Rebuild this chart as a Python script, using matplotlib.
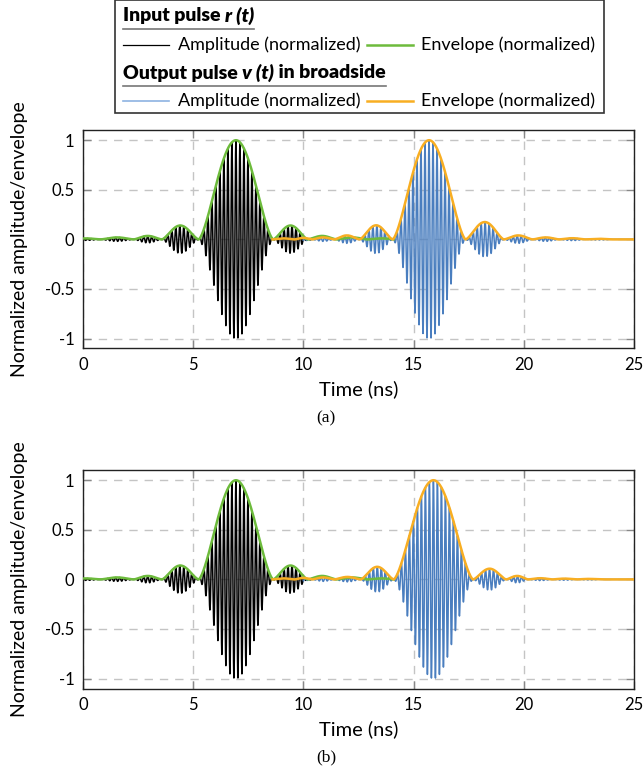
import numpy as np
import matplotlib
matplotlib.use("Agg")
import matplotlib.pyplot as plt
from matplotlib.lines import Line2D

# ---- data (times in ns, normalized amplitudes) ----
carrier_ghz = 5.5

# input pulse r(t): lobe boundaries (nulls) and lobe heights
in_nulls = [-0.5, 0.8, 2.3, 3.58, 5.25, 8.63, 10.2, 11.5, 12.9, 14.2]
in_heights = [0.01, 0.02, 0.035, 0.14, 1.0, 0.14, 0.035, 0.02, 0.01]
in_peak = 6.94
in_amp_span = (0.0, 10.4)
in_env_span = (0.0, 14.1)

# output pulse v(t), panel (a)
out_nulls_a = [8.6, 9.6, 10.4, 11.4, 12.55, 14.05, 17.36, 19.1, 20.4, 21.6, 22.8, 24.0]
out_heights_a = [0.01, 0.015, 0.02, 0.04, 0.142, 1.0, 0.175, 0.04, 0.02, 0.012, 0.006]
out_peak_a = 15.7

# output pulse v(t), panel (b)
out_nulls_b = [8.6, 9.6, 10.4, 11.4, 12.6, 14.1, 17.7, 19.2, 20.2, 21.3, 22.4, 23.5]
out_heights_b = [0.01, 0.015, 0.02, 0.025, 0.127, 1.0, 0.108, 0.035, 0.012, 0.008, 0.005]
out_peak_b = 15.9

out_amp_span = (10.0, 25.0)
out_env_span = (8.6, 25.0)

xticks = [0, 5, 10, 15, 20, 25]
yticks = [-1, -0.5, 0, 0.5, 1]
ytick_labels = ["-1", "-0.5", "0", "0.5", "1"]

C_BLACK = "#000000"
C_GREEN = "#6DBB3C"
C_BLUE = "#4A7EBF"
C_ORANGE = "#F8AE22"
FONT = "Lato"


def envelope(t, nulls, heights, shape=1.5):
    env = np.zeros_like(t)
    for k, h in enumerate(heights):
        a, b = nulls[k], nulls[k + 1]
        m = (t >= a) & (t <= b)
        env[m] = h * np.sin(np.pi * (t[m] - a) / (b - a)) ** shape
    return env


def draw_panel(ax, out_nulls, out_heights, out_peak):
    t = np.arange(0, 25.0001, 0.004)
    env_in = envelope(t, in_nulls, in_heights)
    env_out = envelope(t, out_nulls, out_heights)
    amp_in = env_in * np.cos(2 * np.pi * carrier_ghz * (t - in_peak))
    amp_out = env_out * np.cos(2 * np.pi * carrier_ghz * (t - out_peak))

    m = (t >= in_amp_span[0]) & (t <= in_amp_span[1])
    ax.plot(t[m], amp_in[m], color=C_BLACK, lw=1.1, zorder=3)
    m = (t >= out_amp_span[0]) & (t <= out_amp_span[1])
    ax.plot(t[m], amp_out[m], color=C_BLUE, lw=1.1, zorder=4)
    m = (t >= in_env_span[0]) & (t <= in_env_span[1])
    ax.plot(t[m], env_in[m], color=C_GREEN, lw=1.8, zorder=5)
    m = (t >= out_env_span[0]) & (t <= out_env_span[1])
    ax.plot(t[m], env_out[m], color=C_ORANGE, lw=1.8, zorder=6)

    ax.set_xlim(0, 25)
    ax.set_ylim(-1.1, 1.1)
    ax.set_xticks(xticks)
    ax.set_yticks(yticks)
    ax.set_yticklabels(ytick_labels)
    ax.grid(True, color="#c4c4c4", lw=1.0, ls=(0, (6, 5)))
    ax.tick_params(direction="in", length=6, width=1.0, color="#888888",
                   top=True, right=True, labelsize=12, pad=6)
    for lab in ax.get_xticklabels() + ax.get_yticklabels():
        lab.set_fontfamily(FONT)
    for s in ax.spines.values():
        s.set_linewidth(1.0)
        s.set_color("#222222")
    ax.set_xlabel("Time (ns)", fontsize=14.5, fontfamily=FONT, labelpad=5)
    ax.set_ylabel("Normalized amplitude/envelope", fontsize=14, fontfamily=FONT, labelpad=6)


fig = plt.figure(figsize=(6.43, 7.71), dpi=100)
ax_a = fig.add_axes([0.129, 0.548, 0.857, 0.283])
ax_b = fig.add_axes([0.129, 0.107, 0.857, 0.283])
draw_panel(ax_a, out_nulls_a, out_heights_a, out_peak_a)
draw_panel(ax_b, out_nulls_b, out_heights_b, out_peak_b)
ax_a.yaxis.set_label_coords(-0.1, 0.5)
ax_b.yaxis.set_label_coords(-0.1, 0.5)

fig.text(0.507, 1 - 418 / 771, "(a)", ha="center", va="center",
         fontfamily="Liberation Serif", fontsize=12.5)
fig.text(0.507, 1 - 757 / 771, "(b)", ha="center", va="center",
         fontfamily="Liberation Serif", fontsize=12.5)

# ---- legend box built by hand ----
W, H = 643, 771


def fx(px):
    return px / W


def fy(py):
    return 1 - py / H


fig.add_artist(plt.Rectangle((fx(115), fy(113)), fx(604) - fx(115), fy(0.5) - fy(113),
                             transform=fig.transFigure, fill=False, lw=1.2, ec="#333333"))


def header(x, y, parts):
    fig.canvas.draw()
    r = fig.canvas.get_renderer()
    cur = x
    for txt, style in parts:
        tt = fig.text(fx(cur), fy(y), txt, fontsize=14, fontweight="heavy", fontstyle=style,
                      fontfamily=FONT, va="center", ha="left")
        bb = tt.get_window_extent(renderer=r)
        cur += bb.width
    fig.add_artist(Line2D([fx(x), fx(cur)], [fy(y + 13), fy(y + 13)],
                          transform=fig.transFigure, color="#777777", lw=1.2))


def entry(y, x_line, color, lw, x_text, label):
    fig.add_artist(Line2D([fx(x_line), fx(x_line + 46)], [fy(y), fy(y)],
                          transform=fig.transFigure, color=color, lw=lw))
    fig.text(fx(x_text), fy(y), label, fontsize=13, fontfamily=FONT, va="center", ha="left")


header(123, 16, [("Input pulse ", "normal"), ("r (t)", "italic")])
entry(45, 123, C_BLACK, 0.9, 178, "Amplitude (normalized)")
entry(45, 367, C_GREEN, 1.8, 421, "Envelope (normalized)")
header(123, 73, [("Output pulse ", "normal"), ("v (t)", "italic"), (" in broadside", "normal")])
entry(101, 123, "#8DB3E2", 1.2, 178, "Amplitude (normalized)")
entry(101, 367, C_ORANGE, 1.8, 421, "Envelope (normalized)")

fig.savefig("out.png", dpi=100)
